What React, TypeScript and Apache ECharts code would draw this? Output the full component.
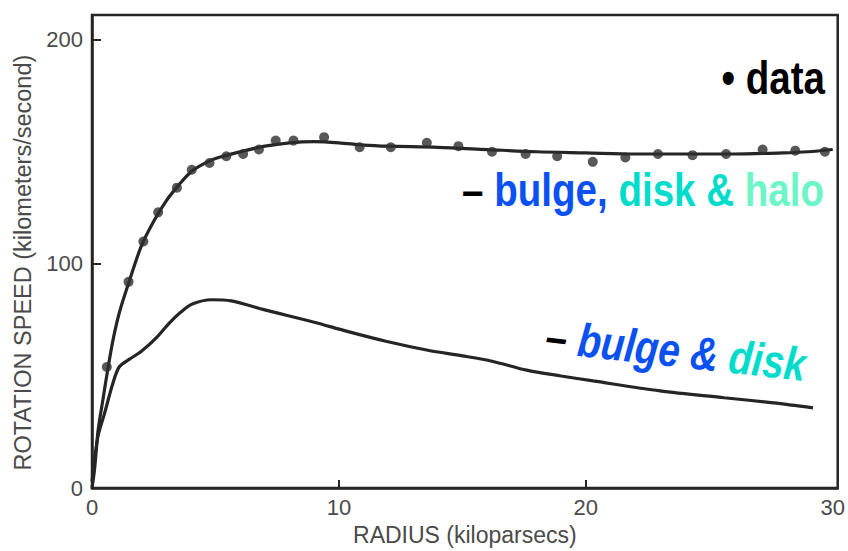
import React, { useEffect, useRef } from "react";
import * as echarts from "echarts";

// observed data points: radius (kpc), rotation speed (km/s)
const dataRadius = [0.6, 1.48, 2.08, 2.68, 3.44, 4.04, 4.76, 5.44, 6.12, 6.76, 7.44, 8.16, 9.4, 10.84, 12.1, 13.56, 14.84, 16.2, 17.56, 18.84, 20.28, 21.6, 22.92, 24.32, 25.68, 27.16, 28.48, 29.68];
const dataSpeed = [54, 92, 110, 123, 134, 142, 145, 148, 149, 151, 155, 155, 156.5, 152, 152, 154, 152.5, 150, 149, 148, 145.5, 147.5, 149, 148.5, 149, 151, 150.5, 150];

// model: bulge, disk & halo
const totalRadius = [0, 0.1, 0.25, 0.45, 0.64, 0.85, 1.1, 1.5, 2, 2.5, 3, 3.5, 4, 4.5, 5, 6, 7, 8, 9, 10, 11, 12, 14, 16, 18, 20, 22, 24, 26, 28, 29, 30];
const totalSpeed = [0, 8, 26, 40, 53, 66, 78, 92, 108, 119, 128, 135, 141, 144.5, 147, 150, 152.5, 154, 154.5, 154, 153, 152.5, 152, 151, 150, 149.5, 149, 149, 149, 149.5, 150, 151];

// model: bulge & disk
const diskRadius = [0, 0.24, 0.5, 0.84, 1.1, 1.52, 2, 2.6, 3.12, 3.6, 4.04, 4.84, 5.64, 7, 9, 10.3, 11.9, 13.6, 15, 16.2, 17.6, 19, 20.3, 23, 25.6, 27.6, 29.2];
const diskSpeed = [3, 23, 33, 46.5, 54, 57.5, 61, 67, 73.5, 78.5, 82, 84, 83.5, 79.5, 74, 70, 65.5, 61.5, 59, 56.6, 52.6, 50, 47.8, 43.4, 40.3, 38, 35.8];

const xTicks = [0, 10, 20, 30];
const yTicks = [0, 100, 200];

const zip = (a: number[], b: number[]) => a.map((v, i) => [v, b[i]]);

const INK = "#252525";
const GRAY = "#4a4a4a";
const BLUE = "#0b50f0";
const TURQ = "#00dccb";
const AQUA = "#6cf5c6";
const SANS = "'Liberation Sans', Arial, Helvetica, sans-serif";
const BIG = 47;
const NARROW_SCALE = 0.82;

export default function App() {
  const ref = useRef<HTMLDivElement>(null);
  useEffect(() => {
    if (!ref.current) return;
    const chart = echarts.init(ref.current, undefined, { renderer: "svg" });
    const bold = { fontSize: BIG, fontWeight: "bold", fontFamily: SANS };
    const boldIt = { ...bold, fontStyle: "italic" };
    chart.setOption({
      animation: false,
      backgroundColor: "#ffffff",
      grid: {
        left: 92,
        right: 3,
        top: 15,
        bottom: 59,
        show: true,
        borderColor: INK,
        borderWidth: 2.5,
        backgroundColor: "transparent",
      },
      xAxis: {
        type: "value",
        min: 0,
        max: 30.2,
        interval: 10,
        name: "RADIUS (kiloparsecs)",
        nameLocation: "middle",
        nameGap: 30,
        nameTextStyle: { color: GRAY, fontSize: 23, fontFamily: SANS },
        axisLine: { show: true, lineStyle: { color: INK, width: 2.5 } },
        axisTick: { show: true, inside: true, length: 8, lineStyle: { color: INK, width: 2 }, customValues: [10, 20] },
        axisLabel: { color: GRAY, fontSize: 22, fontFamily: SANS, margin: 8, customValues: xTicks },
        splitLine: { show: false },
      },
      yAxis: {
        type: "value",
        min: 0,
        max: 211,
        interval: 100,
        name: "ROTATION SPEED (kilometers/second)",
        nameLocation: "middle",
        nameGap: 55,
        nameTextStyle: { color: GRAY, fontSize: 23.5, fontFamily: SANS, padding: [0, 22, 0, 0] },
        axisLine: { show: true, lineStyle: { color: INK, width: 2.5 } },
        axisTick: { show: true, inside: true, length: 9, lineStyle: { color: INK, width: 2 }, customValues: yTicks },
        axisLabel: { color: GRAY, fontSize: 22, fontFamily: SANS, margin: 9, customValues: yTicks },
        splitLine: { show: false },
      },
      series: [
        {
          name: "bulge, disk & halo",
          type: "line",
          data: zip(totalRadius, totalSpeed),
          smooth: 0.3,
          showSymbol: false,
          lineStyle: { color: INK, width: 3.2 },
          z: 2,
        },
        {
          name: "bulge & disk",
          type: "line",
          data: zip(diskRadius, diskSpeed),
          smooth: 0.3,
          showSymbol: false,
          lineStyle: { color: INK, width: 3.2 },
          z: 2,
        },
        {
          name: "data",
          type: "scatter",
          data: zip(dataRadius, dataSpeed),
          symbol: "circle",
          symbolSize: 10,
          itemStyle: { color: "#2e2e2e" },
          z: 3,
        },
      ],
      graphic: [
        {
          type: "text",
          x: 825,
          y: 78,
          scaleX: NARROW_SCALE,
          style: {
            text: "• data",
            align: "right",
            verticalAlign: "middle",
            fill: "#000000",
            ...bold,
          },
        },
        {
          type: "text",
          x: 824,
          y: 190,
          scaleX: NARROW_SCALE,
          style: {
            text: "{k|– }{b|bulge, }{d|disk & }{h|halo}",
            align: "right",
            verticalAlign: "middle",
            ...bold,
            rich: {
              k: { fill: "#000000", ...bold },
              b: { fill: BLUE, ...bold },
              d: { fill: TURQ, ...bold },
              h: { fill: AQUA, ...bold },
            },
          },
        },
        {
          type: "text",
          x: 546,
          y: 336,
          rotation: -0.11,
          scaleX: NARROW_SCALE,
          style: {
            text: "{k|– }{b|bulge & }{d|disk}",
            align: "left",
            verticalAlign: "middle",
            ...boldIt,
            rich: {
              k: { fill: "#000000", ...boldIt },
              b: { fill: BLUE, ...boldIt },
              d: { fill: TURQ, ...boldIt },
            },
          },
        },
      ],
    });
    return () => chart.dispose();
  }, []);
  return (
    <div
      ref={ref}
      style={{ position: "fixed", left: 0, top: 0, width: 848, height: 551 }}
    />
  );
}
